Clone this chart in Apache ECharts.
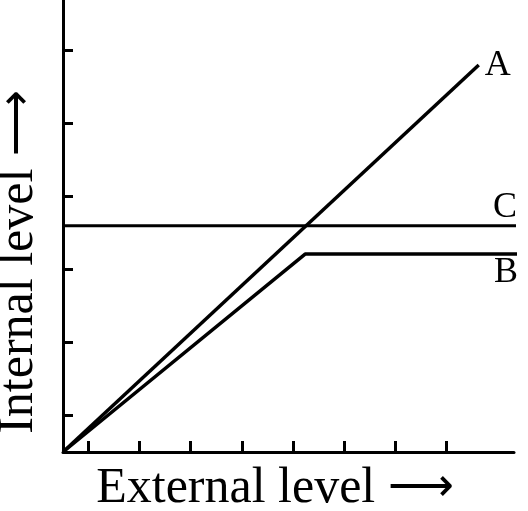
<!DOCTYPE html>
<html><head><meta charset="utf-8">
<script src="https://cdn.jsdelivr.net/npm/echarts@6/dist/echarts.min.js"></script>
<style>html,body{margin:0;padding:0;background:#fff}#c{width:528px;height:511px}</style>
</head><body><div id="c"></div>
<script>
// Data (x in tick-spacing units, y in tick-spacing units)
const seriesNames = ['A', 'B', 'C'];
const lineA = [[0, 0], [8.14, 5.30]];
const lineB = [[0, 0], [4.74, 2.71], [9.04, 2.71]];
const lineC = [[0, 3.10], [9.04, 3.10]];
const xTicks = [0.5, 1.5, 2.5, 3.5, 4.5, 5.5, 6.5, 7.5];
const yTicks = [0.5, 1.5, 2.5, 3.5, 4.5, 5.5];
const xTitle = 'External level';
const yTitle = 'Internal level';
const arrow = '⟶';

const FONT = '"Liberation Serif", "Times New Roman", serif';
const chart = echarts.init(document.getElementById('c'), null, {renderer: 'canvas'});
const axisCommon = {
  type: 'value', min: 0,
  splitLine: {show: false},
  axisLabel: {show: false},
  axisLine: {show: true, onZero: false, lineStyle: {color: '#000', width: 3}},
};
function mk(name, data, width, off) {
  return {
    type: 'line', name, data, clip: false, symbol: 'none', silent: true,
    lineStyle: {color: '#000', width},
    endLabel: {show: true, formatter: name, color: '#000', fontFamily: FONT, fontSize: 36,
      distance: 0, offset: off},
    animation: false
  };
}
const richStyle = {
  t: {fontFamily: FONT, fontSize: 50, fill: '#000'},
  a: {fontFamily: FONT, fontSize: 46, fill: '#000'}
};
chart.setOption({
  animation: false,
  grid: {left: 63, top: 0, right: 14, bottom: 59, containLabel: false},
  xAxis: Object.assign({}, axisCommon, {max: 8.83,
    axisTick: {show: true, inside: true, length: 11, customValues: xTicks, lineStyle: {color: '#000', width: 3}}}),
  yAxis: Object.assign({}, axisCommon, {max: 6.19,
    axisTick: {show: true, inside: true, length: 10, customValues: yTicks, lineStyle: {color: '#000', width: 3}}}),
  series: [
    mk(seriesNames[0], lineA, 3.5, [6, 1]),
    mk(seriesNames[1], lineB, 3.5, [-23, 18]),
    mk(seriesNames[2], lineC, 3, [-23, -18])
  ],
  graphic: [
    {type: 'text', x: 275, y: 489, silent: true,
      style: {text: '{t|' + xTitle + '} {a|' + arrow + '}', rich: richStyle, font: '50px ' + FONT, fill: '#000', textAlign: 'center', textVerticalAlign: 'middle'}},
    {type: 'text', x: 19, y: 262, rotation: Math.PI / 2, silent: true,
      style: {text: '{t|' + yTitle + '} {a|' + arrow + '}', rich: richStyle, font: '50px ' + FONT, fill: '#000', textAlign: 'center', textVerticalAlign: 'middle'}}
  ]
});
</script></body></html>
